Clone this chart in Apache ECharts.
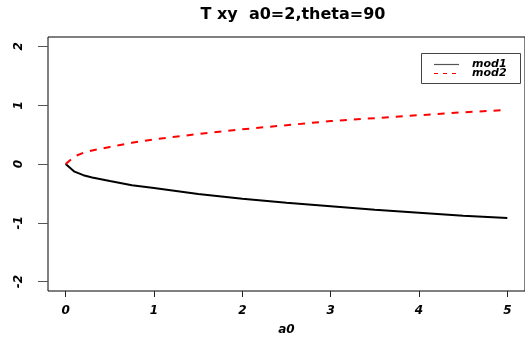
<!DOCTYPE html>
<html>
<head>
<meta charset="utf-8">
<script src="https://cdn.jsdelivr.net/npm/echarts@6/dist/echarts.min.js"></script>
<style>
  html, body { margin: 0; padding: 0; background: #fff; }
  #chart { width: 525px; height: 349px; }
</style>
</head>
<body>
<div id="chart"></div>
<script>
// a0 values along the x axis
var a0 = [0, 0.1, 0.2, 0.3, 0.5, 0.75, 1, 1.5, 2, 2.5, 3, 3.5, 4, 4.5, 5];
// T xy for the two models
var mod1 = [0, -0.13, -0.19, -0.23, -0.29, -0.36, -0.41, -0.51, -0.59, -0.66, -0.72, -0.78, -0.83, -0.88, -0.92];
var mod2 = [0, 0.13, 0.19, 0.23, 0.29, 0.36, 0.42, 0.51, 0.59, 0.66, 0.73, 0.78, 0.83, 0.88, 0.92];
// tick labels
var xTicks = [0, 1, 2, 3, 4, 5];
var yTicks = [-2, -1, 0, 1, 2];
var seriesNames = ['mod1', 'mod2'];

function pairs(xs, ys) {
  return xs.map(function (x, i) { return [x, ys[i]]; });
}

var FONT = '"DejaVu Sans", Verdana, sans-serif';
var labelStyle = { fontFamily: FONT, fontSize: 12, fontWeight: 'bold', fontStyle: 'italic', color: '#000' };
var chart = echarts.init(document.getElementById('chart'), null, { renderer: 'canvas' });

chart.setOption({
  animation: false,
  backgroundColor: '#fff',
  title: {
    text: 'T xy  a0=2,theta=90',
    left: 288,
    top: 2,
    textAlign: 'center',
    textStyle: { fontFamily: FONT, fontWeight: 'bold', fontSize: 16, color: '#000' }
  },
  grid: {
    left: 48, top: 37, width: 480, height: 254,
    show: true, borderColor: '#000', borderWidth: 1, backgroundColor: 'transparent'
  },
  // boxed key in the upper right corner
  graphic: [
    { type: 'rect', shape: { x: 421.5, y: 53.5, width: 99, height: 30 },
      style: { fill: '#fff', stroke: '#444', lineWidth: 1 }, z: 10 },
    { type: 'line', shape: { x1: 434, y1: 64.5, x2: 459, y2: 64.5 },
      style: { stroke: '#555', lineWidth: 1.2 }, z: 11 },
    { type: 'line', shape: { x1: 434, y1: 73.5, x2: 459, y2: 73.5 },
      style: { stroke: '#ff0000', lineWidth: 1.2, lineDash: [4, 5] }, z: 11 },
    { type: 'text', x: 472, y: 64, z: 11,
      style: { text: seriesNames[0], verticalAlign: 'middle', fill: '#000', font: 'italic bold 11px ' + FONT } },
    { type: 'text', x: 472, y: 73, z: 11,
      style: { text: seriesNames[1], verticalAlign: 'middle', fill: '#000', font: 'italic bold 11px ' + FONT } }
  ],
  xAxis: {
    type: 'value',
    position: 'bottom',
    min: -0.2, max: 5.2,
    name: 'a0',
    nameLocation: 'middle',
    nameGap: 33,
    nameTextStyle: labelStyle,
    axisLine: { show: false, onZero: false },
    splitLine: { show: false },
    axisTick: { show: true, inside: false, length: 6, customValues: xTicks, lineStyle: { color: '#222' } },
    axisLabel: Object.assign({ customValues: xTicks, margin: 14 }, labelStyle)
  },
  yAxis: {
    type: 'value',
    position: 'left',
    min: -2.16, max: 2.16,
    axisLine: { show: false, onZero: false },
    splitLine: { show: false },
    axisTick: { show: true, inside: false, length: 10, customValues: yTicks, lineStyle: { color: '#555' } },
    axisLabel: Object.assign({ customValues: yTicks, rotate: 90, margin: 23 }, labelStyle)
  },
  series: [
    {
      name: seriesNames[0], type: 'line', symbol: 'none', smooth: false,
      data: pairs(a0, mod1),
      itemStyle: { color: '#000' },
      lineStyle: { color: '#000', width: 2, type: 'solid' }
    },
    {
      name: seriesNames[1], type: 'line', symbol: 'none', smooth: false,
      data: pairs(a0, mod2),
      itemStyle: { color: '#ff0000' },
      lineStyle: { color: '#ff0000', width: 2, type: [7, 7] }
    }
  ]
});
</script>
</body>
</html>
